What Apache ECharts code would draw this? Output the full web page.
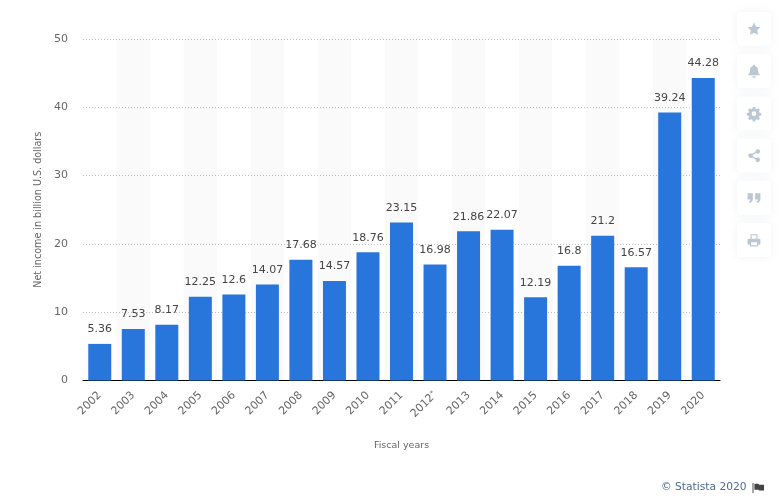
<!DOCTYPE html>
<html><head><meta charset="utf-8">
<style>html,body{margin:0;padding:0;background:#fff}#c{width:784px;height:503px}</style>
<script src="https://cdn.jsdelivr.net/npm/echarts@6/dist/echarts.min.js"></script>
</head><body><div id="c"></div>
<script>
const categories=['2002','2003','2004','2005','2006','2007','2008','2009','2010','2011','2012*','2013','2014','2015','2016','2017','2018','2019','2020'];
const netIncome=[5.36,7.53,8.17,12.25,12.6,14.07,17.68,14.57,18.76,23.15,16.98,21.86,22.07,12.19,16.8,21.2,16.57,39.24,44.28];
const yTitle='Net income in billion U.S. dollars';
const xTitle='Fiscal years';
const credit='© Statista 2020';
const iconCol='#bcc7d4';
const font='"DejaVu Sans"';
const icons=[
 'M12 1l3.4 7 7.6 1-5.5 5.3 1.3 7.7L12 18.4 5.2 22l1.3-7.7L1 9l7.6-1z',
 'M12 1a2 2 0 0 1 2 2c3.5 1 5 4 5 8 0 4 1 5 3 7v1H2v-1c2-2 3-3 3-7 0-4 1.500-7 5-8a2 2 0 0 1 2-2zM9 20.500h6a3 3 0 0 1-6 0z',
 'M10 1h4l.6 3 2.200.9 2.600-1.700 2.800 2.800-1.700 2.600.9 2.200 3 .6v4l-3 .6-.9 2.200 1.700 2.600-2.800 2.800-2.600-1.700-2.200.9-.6 3h-4l-.6-3-2.200-.9-2.600 1.700-2.800-2.800 1.700-2.600-.9-2.200-3-.6v-4l3-.6.9-2.200-1.700-2.600 2.800-2.800 2.600 1.700 2.200-.9zM12 8.500a4 4 0 1 0 0 8 4 4 0 0 0 0-8z',
 'M18.500 1a4 4 0 1 1-3 6.700L9.800 10.800a4 4 0 0 1 0 2.400l5.700 3.100a4 4 0 1 1-1 2l-5.900-3.200a4 4 0 1 1 0-6.200l5.900-3.200A4 4 0 0 1 18.500 1z',
 'M1 4h9v9c0 4-2 7-6 8l-1-2.500c2-.7 3-2 3-3.500H1zM14 4h9v9c0 4-2 7-6 8l-1-2.500c2-.7 3-2 3-3.500h-5z',
 'M6 2h12v8h3a2 2 0 0 1 2 2v6a2 2 0 0 1-2 2h-2v3H5v-3H3a2 2 0 0 1-2-2v-6a2 2 0 0 1 2-2h3zM8 4v6h8V4zM7 16v5h10v-5z'
];
const flagPath='M0 0h2v24H0zM4 2h8l2 2h10v14H14l-2-2H4z';
icons.forEach((d,i)=>echarts.graphic.registerShape('icon'+i,echarts.graphic.extendPath(d,{})));
echarts.graphic.registerShape('flagIcon',echarts.graphic.extendPath(flagPath,{}));
const graphic=[];
icons.forEach((d,i)=>{
  const top=12+i*42.2;
  graphic.push({type:'rect',x:737,y:top,z:10,shape:{x:0,y:0,width:34,height:34,r:4},
    style:{fill:'#fff',shadowBlur:8,shadowColor:'rgba(150,165,185,0.14)'}});
  const s=14/24;
  graphic.push({type:'icon'+i,x:754-7,y:top+17-7,scaleX:s,scaleY:s,z:11,style:{fill:iconCol}});
});
graphic.push({type:'text',x:661,y:482,z:10,style:{text:credit,font:'10.7px '+font,fill:'#4d6a94'}});
graphic.push({type:'flagIcon',x:752.5,y:483,scaleX:0.48,scaleY:0.42,z:10,style:{fill:'#444'}});
const chart=echarts.init(document.getElementById('c'),null,{renderer:'canvas'});
chart.setOption({
  animation:false,
  grid:{left:83,right:64,top:39,bottom:122.5,containLabel:false},
  graphic,
  xAxis:{type:'category',data:categories,
    name:xTitle,nameLocation:'middle',nameGap:60,nameTextStyle:{fontFamily:font,fontSize:9.5,color:'#666'},
    axisLine:{lineStyle:{color:'#000',width:1}},axisTick:{show:false},
    axisLabel:{rotate:45,interval:0,margin:13,fontFamily:font,fontSize:11,color:'#666',
      formatter:v=>v.endsWith('*')?v.slice(0,-1)+'{s|*}':v,
      rich:{s:{fontFamily:font,fontSize:7,color:'#666',verticalAlign:'top'}}},
    splitArea:{show:true,areaStyle:{color:['rgba(0,0,0,0)','rgba(0,0,0,0.02)']}}},
  yAxis:{type:'value',min:0,max:50,interval:10,
    name:yTitle,nameLocation:'middle',nameGap:39,nameTextStyle:{fontFamily:font,fontSize:9.6,color:'#666'},
    axisLine:{show:false},axisTick:{show:false},
    axisLabel:{margin:15,fontFamily:font,fontSize:11,color:'#666',padding:[2,0,0,0]},
    splitLine:{lineStyle:{color:'#c0c0c0',type:[1,2],width:1}}},
  series:[{type:'bar',data:netIncome,barWidth:23,itemStyle:{color:'#2875DC'},
    label:{show:true,position:'top',distance:9,fontFamily:font,fontSize:11,color:'#444'}}]
});
</script></body></html>
